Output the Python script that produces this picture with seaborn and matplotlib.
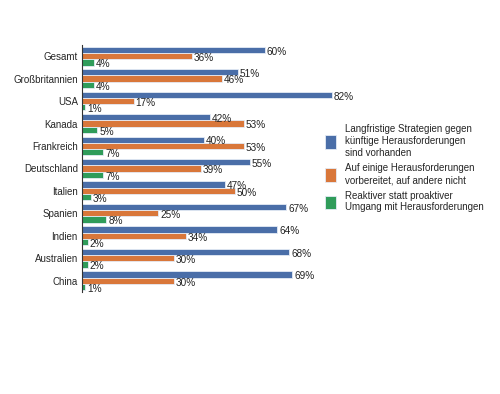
import pandas as pd
import matplotlib.pyplot as plt
import seaborn as sns

countries = ["Gesamt", "Großbritannien", "USA", "Kanada", "Frankreich", "Deutschland",
             "Italien", "Spanien", "Indien", "Australien", "China"]
langfristig = [60, 51, 82, 42, 40, 55, 47, 67, 64, 68, 69]
teilweise = [36, 46, 17, 53, 53, 39, 50, 25, 34, 30, 30]
reaktiv = [4, 4, 1, 5, 7, 7, 3, 8, 2, 2, 1]

series = ["Langfristige Strategien gegen\nkünftige Herausforderungen\nsind vorhanden",
          "Auf einige Herausforderungen\nvorbereitet, auf andere nicht",
          "Reaktiver statt proaktiver\nUmgang mit Herausforderungen"]
colors = ["#4a6ea8", "#d9773a", "#2f9c5a"]

rows = []
for vals, name in zip([langfristig, teilweise, reaktiv], series):
    for c, v in zip(countries, vals):
        rows.append({"Land": c, "Wert": v, "Serie": name})
df = pd.DataFrame(rows)

sns.set_style("white")
plt.rcParams['font.family'] = ['Liberation Sans', 'DejaVu Sans']

fig = plt.figure(figsize=(5, 3.94), dpi=100)
ax = fig.add_axes([0.164, 0.259, 0.61, 0.627])
sns.barplot(data=df, y="Land", x="Wert", hue="Serie", orient="h", saturation=1,
            palette=colors, width=0.84, edgecolor="#e4ebf5", linewidth=0.6, ax=ax)

for cont in ax.containers:
    for bar in cont:
        w = bar.get_width()
        y = bar.get_y() + bar.get_height() / 2
        ax.text(w + 0.6, y + 0.08, f"{int(round(w))}%", va="center", ha="left",
                fontsize=7.2, color="#222222")

ax.set_xlim(0, 100)
ax.set_ylim(10.5, -0.5)
ax.set_xlabel("")
ax.set_ylabel("")
ax.set_xticks([])
for s in ["top", "right", "bottom"]:
    ax.spines[s].set_visible(False)
ax.spines["left"].set_color("#333333")
ax.spines["left"].set_linewidth(0.8)
ax.tick_params(axis="y", length=0, labelsize=7, pad=3)

ax.legend(loc="center left", bbox_to_anchor=(0.785, 0.50), frameon=False, fontsize=7,
          handlelength=1.15, handleheight=1.8, labelspacing=0.6, handletextpad=0.9,
          borderaxespad=0)

fig.savefig("out.png", dpi=100)
